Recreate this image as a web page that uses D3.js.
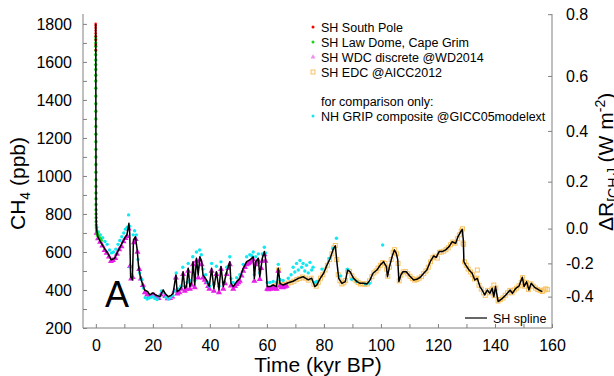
<!DOCTYPE html>
<html>
<head>
<meta charset="utf-8">
<script src="https://cdn.jsdelivr.net/npm/d3@7"></script>
<style>
body { margin: 0; background: #fff; }
svg { display: block; }
</style>
</head>
<body>
<div id="plot"></div>
<script>
// [time kyr BP, CH4 ppb]
let southPole = [[-0.060,1800],[-0.056,1790],[-0.052,1778],[-0.048,1765],[-0.044,1750],[-0.040,1735],[-0.035,1715],[-0.030,1690],[-0.027,1662]];

let lawDome = [[-0.040,1733],[-0.036,1718],[-0.032,1700],[-0.028,1682],[-0.024,1660],[-0.020,1638],[-0.016,1610],[-0.012,1585],[-0.008,1560],
  [-0.004,1530],[0,1500],[0.004,1462],[0.008,1420],[0.012,1380],[0.016,1340],[0.020,1300],[0.024,1260],[0.028,1220],[0.032,1180],[0.036,1140],
  [0.040,1100],[0.045,1060],[0.050,1020],[0.055,980],[0.060,945],[0.065,910],[0.070,880],[0.080,850],[0.090,822],[0.100,800],[0.120,780],
  [0.140,760],[0.170,742],[0.200,728],[0.250,715],[0.300,705],[0.400,698],[0.500,692],[0.650,688],[0.800,684],[1.000,680],[1.300,674],
  [1.600,668],[1.900,660]];

let wdc = [[0.3,705],[0.8,676],[1.5,658],[2.3,638],[3.1,614],[3.8,600],[4.6,580],[5.3,556],[6.0,562],[6.8,572],[7.4,594],[8.2,618],[9.0,634],[9.7,660],
  [10.4,678],[11.0,688],[11.5,728],[12.0,530],[12.4,465],[12.9,472],[13.4,655],[14.0,672],[14.6,605],[15.2,515],[15.8,465],[16.5,430],
  [17.2,392],[18.0,380],[18.8,370],[19.6,375],[20.4,378],[21.2,366],[22.0,362],[22.8,380],[23.6,392],[24.4,372],[25.2,360],[26.0,362],[26.8,370],
  [27.6,400],[28.1,470],[28.6,385],[29.3,392],[30.0,410],[30.6,488],[31.2,400],[31.8,410],[32.4,505],[33.0,410],[33.6,432],[34.1,540],[34.7,418],
  [35.3,558],[35.9,470],[36.5,565],[37.1,540],[37.6,470],[38.2,458],[38.8,445],[39.4,425],[39.8,410],[40.6,505],[41.4,400],[42.3,488],[43.2,392],
  [43.9,515],[44.7,410],[45.3,440],[45.9,488],[46.5,520],[47.0,540],[47.4,428],[48.2,410],[48.8,425],[49.4,436],[50.0,445],[50.5,452],[51.1,480],
  [51.7,505],[52.3,525],[52.9,540],[53.5,545],[54.0,550],[54.6,558],[55.2,566],[55.6,452],[56.1,540],[56.6,552],[57.0,558],[57.5,462],[58.0,520],
  [58.4,558],[59.1,592],[59.5,558],[60.1,410],[60.6,408],[61.1,410],[61.7,415],[62.2,418],[62.8,412],[63.4,410],[64.0,505],[64.6,428],[65.2,420],
  [65.7,418],[66.3,422],[66.9,426]];

let edc = [[62.5,420],[63.5,425],[64.1,505],[64.7,440],[65.5,430],[66.5,430],[67.5,436],[68.5,440],[69.5,446],[70.5,455],[71.5,460],[72.5,468],
  [73.5,462],[74.5,452],[75.5,462],[76.5,430],[77.3,420],[78.0,440],[78.8,462],[79.6,480],[80.4,505],[81.2,530],[82.0,560],[82.8,590],[83.5,622],[84.0,634],
  [84.5,560],[85.0,480],[85.6,448],[86.3,432],[87.0,438],[87.6,450],[88.3,500],[89.0,498],[89.8,475],[90.5,458],[91.3,448],[92.0,440],[92.8,432],
  [93.6,433],[94.4,430],[95.2,432],[96.0,448],[96.8,470],[97.5,490],[98.3,500],[99.0,515],[99.8,530],[100.6,545],[101.4,540],[102.0,510],[102.4,472],
  [103.0,520],[103.6,560],[104.3,598],[104.8,612],[105.5,590],[106.0,540],[106.4,448],[107.0,478],[107.8,495],[108.6,497],[109.4,485],[110.2,472],
  [111.0,460],[111.8,452],[112.6,455],[113.4,462],[114.2,470],[115.0,486],[115.8,500],[116.6,520],[117.4,548],[118.2,570],[119.0,578],[119.8,568],
  [120.5,598],[121.2,600],[122.0,604],[122.8,612],[123.6,622],[124.4,638],[125.2,652],[126.0,646],[126.8,670],[127.5,690],[128.2,710],[128.6,722],
  [128.8,647],[129.0,640],[129.3,548],[129.9,530],[130.6,510],[131.4,495],[132.2,480],[132.8,458],[133.6,462],[133.8,505],[134.4,425],[135.2,405],
  [136.0,385],[136.6,372],[137.4,398],[138.2,385],[139.0,405],[139.6,426],[139.7,370],[140.3,410],[141.1,342],[141.9,350],[142.8,358],[143.6,372],
  [144.4,385],[145.2,398],[146.0,385],[146.8,400],[147.6,410],[148.4,422],[149.2,440],[149.7,465],[150.3,420],[151.0,440],[151.8,402],[152.6,432],
  [153.4,420],[154.2,410],[155.0,402],[155.8,398],[156.6,392],[157.2,400],[157.8,406],[158.4,402]];

let grip = [[0.3,730],[0.9,705],[1.6,690],[2.4,675],[3.2,655],[4.0,640],[4.8,610],[5.5,595],[6.2,600],[7.0,615],[7.8,640],[8.4,660],[9.1,680],
  [9.8,700],[10.4,720],[11.0,730],[11.5,795],[11.8,735],[12.1,520],[12.6,480],[13.1,690],[13.6,712],[14.2,690],[14.8,560],[15.4,490],[16.0,455],
  [16.7,410],[17.3,360],[18.0,352],[18.7,358],[19.4,362],[20.1,365],[20.8,355],[21.5,350],[22.3,368],[23.0,395],[23.8,385],[24.6,362],[25.4,352],
  [26.2,360],[27.0,372],[27.8,395],[28.2,490],[29.0,405],[29.8,420],[30.5,520],[31.2,420],[32.0,440],[32.4,540],[33.0,450],[34.0,575],[34.7,450],
  [35.3,600],[35.9,520],[36.4,610],[37.0,585],[37.6,510],[38.5,480],[39.2,440],[39.9,420],[40.6,540],[41.4,430],[42.3,525],[43.2,420],[43.9,548],
  [44.7,440],[45.9,520],[47.0,575],[47.4,460],[48.2,440],[49.4,465],[50.5,480],[51.7,535],[52.9,575],[54.0,585],[54.7,580],[55.2,600],[55.6,480],
  [56.1,575],[57.0,590],[57.5,490],[58.4,590],[59.1,625],[59.5,595],[60.1,440],[61.1,440],[62.2,445],[63.4,440],[64.0,535],[64.6,455],[65.7,450],
  [67.5,462],[68.5,480],[69.2,520],[69.8,495],[70.4,540],[71.0,505],[71.6,555],[72.2,520],[72.7,540],[73.3,500],[73.9,530],[74.5,490],[75.1,545],
  [75.7,505],[76.2,520],[76.8,440],[77.5,445],[79.3,510],[82.0,567],[83.1,619],[84.4,672],[85.9,474],[88.3,510],[89.7,456],[91.5,445],[94.5,432],
  [96.0,435],[100.6,637]];

let spline = [[-0.06,1800],[-0.03,1740],[0,1650],[0.03,1200],[0.08,850],[0.15,740],[0.3,716],[0.7,680],[1.9,646],[3.0,619],[4.2,593],[5.4,558],
  [6.6,567],[7.7,602],[8.9,637],[10.1,672],[10.9,690],[11.6,751],[11.9,698],[12.2,470],[12.8,453],[13.2,663],[13.9,680],[14.5,611],[15.0,523],
  [15.6,470],[16.3,435],[17.1,400],[18.2,391],[18.9,374],[20.0,385],[21.2,372],[22.5,365],[23.6,400],[24.4,380],[25.4,365],[26.4,372],[27.1,382],
  [28.1,479],[28.5,391],[29.3,400],[30.1,418],[30.6,496],[31.2,409],[31.8,418],[32.4,514],[33.0,418],[33.6,440],[34.1,549],[34.7,426],[35.3,567],
  [35.9,479],[36.5,575],[37.1,549],[37.6,479],[38.8,453],[39.8,418],[40.6,514],[41.4,409],[42.3,496],[43.2,400],[43.9,523],[44.7,418],[45.9,496],
  [47.0,549],[47.4,435],[48.2,418],[49.4,444],[50.5,461],[51.7,514],[52.9,549],[54.0,558],[55.2,575],[55.6,461],[56.1,549],[57.0,567],[57.5,470],
  [58.4,567],[59.1,602],[59.5,567],[60.1,418],[61.1,418],[62.2,426],[63.4,418],[64.0,514],[64.6,435],[65.7,426],[67.5,438],[69.2,446],[71.0,461],
  [72.7,470],[74.5,453],[75.7,462],[76.8,418],[77.5,426],[78.7,461],[79.9,488],[81.1,532],[82.2,567],[83.4,619],[84.0,632],
  [84.6,540],[85.2,461],[86.3,435],[87.5,444],[88.3,505],[89.2,496],[90.4,461],[91.6,444],[92.7,435],[93.9,435],[95.1,431],[96.2,453],[97.2,488],
  [98.6,505],[99.8,532],[100.9,549],[101.9,523],[102.3,470],[103.0,523],[103.9,575],[104.7,611],[105.4,593],[105.9,558],[106.3,444],[107.0,479],
  [107.7,496],[108.9,496],[110.1,474],[111.5,453],[112.6,456],[113.8,467],[115.0,488],[116.1,505],[117.3,549],[118.5,579],[119.4,572],[120.4,602],
  [121.5,602],[122.7,611],[123.9,628],[125.0,654],[126.2,645],[127.0,680],[128.0,707],[128.5,719],[128.9,663],[129.1,549],[129.7,532],[130.9,505],
  [132.0,488],[132.9,453],[133.8,461],[134.7,418],[135.5,400],[136.4,374],[137.3,400],[138.2,382],[139.0,409],[139.6,365],[140.2,418],[141.1,339],
  [142.6,356],[143.8,374],[145.3,400],[146.1,382],[147.3,409],[148.4,420],[149.6,467],[150.2,418],[151.1,444],[151.9,400],[152.7,435],[153.9,414],
  [155.4,400],[156.6,391]];

let yTicks = d3.range(200, 1801, 100);
let xTicks = d3.range(0, 161, 10);
// radiative forcing ticks and the CH4 level each one sits at
let rfTicks = [-0.4, -0.2, 0, 0.2, 0.4, 0.6, 0.8];
let rfCH4 = [365, 540, 723, 970, 1237, 1526, 1851];

let legendLabels = ['SH South Pole', 'SH Law Dome, Cape Grim', 'SH WDC discrete @WD2014', 'SH EDC @AICC2012', 'NH GRIP composite @GICC05modelext'];

let width = 614, height = 376;
let margin = {top: 14, right: 62, bottom: 48, left: 83};
let font = '"Liberation Sans", Arial, Helvetica, sans-serif';
let axisColor = '#808080';

let svg = d3.select('#plot').append('svg').attr('width', width).attr('height', height)
  .style('font-family', font).style('background', '#fff');

let x = d3.scaleLinear().domain([-4.5, 160]).range([margin.left, width - margin.right]);
let y = d3.scaleLinear().domain([200, 1852]).range([height - margin.bottom, margin.top]);
let rf = d3.scaleLinear().domain(rfTicks).range(rfCH4.map(y));

// frame: left, bottom, right
svg.append('path')
  .attr('d', `M${x.range()[0]},${y.range()[1]}V${y.range()[0]}H${x.range()[1]}V${y.range()[1]}`)
  .attr('fill', 'none').attr('stroke', axisColor).attr('stroke-width', 1);

function styleAxis(g) {
  g.attr('font-family', font).attr('font-size', 16).style('color', '#000');
  g.select('.domain').remove();
  g.selectAll('.tick line').attr('stroke', axisColor);
}

svg.append('g').attr('transform', `translate(${margin.left},0)`)
  .call(d3.axisLeft(y).tickValues(yTicks).tickSize(-4).tickPadding(11).tickFormat(d => d % 200 ? '' : d))
  .call(styleAxis);

svg.append('g').attr('transform', `translate(0,${height - margin.bottom})`)
  .call(d3.axisBottom(x).tickValues(xTicks).tickSize(-4).tickPadding(12).tickFormat(d => d % 20 ? '' : d))
  .call(styleAxis);

svg.append('g').attr('transform', `translate(${width - margin.right},0)`)
  .call(d3.axisRight(rf).tickValues(rfTicks).tickSize(-4).tickPadding(14).tickFormat(d => d.toFixed(1)))
  .call(styleAxis);

// axis titles
svg.append('text').attr('transform', 'translate(25,230) rotate(-90)').attr('font-size', 21)
  .call(t => {
    t.append('tspan').text('CH');
    t.append('tspan').attr('font-size', 14).attr('dy', 5).text('4');
    t.append('tspan').attr('dy', -5).text(' (ppb)');
  });

// the reference figure crops this title at the right edge as well
svg.append('text').attr('transform', 'translate(613,231) rotate(-90)').attr('font-size', 21)
  .call(t => {
    t.append('tspan').text('\u0394R');
    t.append('tspan').attr('font-size', 14).attr('dy', 5).text('[CH');
    t.append('tspan').attr('font-size', 10).attr('dy', 3).text('4');
    t.append('tspan').attr('font-size', 14).attr('dy', -3).text(']');
    t.append('tspan').attr('dy', -5).text(' (W m');
    t.append('tspan').attr('font-size', 14).attr('dy', -8).text('-2');
    t.append('tspan').attr('dy', 8).text(')');
  });

svg.append('text').attr('x', (x.range()[0] + x.range()[1]) / 2 + 0.5).attr('y', 372)
  .attr('text-anchor', 'middle').attr('font-size', 21).text('Time (kyr BP)');

// data
let plot = svg.append('g');

plot.append('g').selectAll('rect').data(edc).enter().append('rect')
  .attr('x', d => x(d[0]) - 2).attr('y', d => y(d[1]) - 2)
  .attr('width', 4).attr('height', 4)
  .attr('fill', 'none').attr('stroke', '#f8c25e').attr('stroke-width', 1);

let tri = d3.symbol().type(d3.symbolTriangle).size(16);
plot.append('g').selectAll('path').data(wdc).enter().append('path')
  .attr('d', tri)
  .attr('transform', d => `translate(${x(d[0])},${y(d[1]) + 1})`)
  .attr('fill', '#e61ee6');

plot.append('g').selectAll('circle').data(grip).enter().append('circle')
  .attr('cx', d => x(d[0])).attr('cy', d => y(d[1])).attr('r', 1.7)
  .attr('fill', '#11e8f0');

plot.append('g').selectAll('circle').data(lawDome).enter().append('circle')
  .attr('cx', d => x(d[0])).attr('cy', d => y(d[1])).attr('r', 1.7)
  .attr('fill', '#19d419');

plot.append('g').selectAll('circle').data(southPole).enter().append('circle')
  .attr('cx', d => x(d[0])).attr('cy', d => y(d[1])).attr('r', 1.3)
  .attr('fill', '#ff0000');

let line = d3.line().x(d => x(d[0])).y(d => y(d[1]));
plot.append('path').datum(spline).attr('d', line)
  .attr('fill', 'none').attr('stroke', '#000').attr('stroke-width', 1.5).attr('stroke-linejoin', 'round');

// panel letter
svg.append('text').attr('x', 105).attr('y', 307).attr('font-size', 36).text('A');

// legend, top right
let legendColors = ['#ff0000', '#19d419', '#f28cf0', '#f8c25e', '#11e8f0'];
let legendRows = [27, 42, 57, 72, 116];
let legend = svg.append('g').attr('font-size', 12.5);

legendLabels.forEach((lab, i) => {
  let row = legend.append('g').attr('transform', `translate(313,${legendRows[i]})`);
  if (i == 2) {
    row.append('path').attr('d', d3.symbol().type(d3.symbolTriangle).size(10)).attr('fill', legendColors[i]);
  } else if (i == 3) {
    row.append('rect').attr('x', -2).attr('y', -2).attr('width', 4).attr('height', 4)
      .attr('fill', 'none').attr('stroke', legendColors[i]);
  } else {
    row.append('circle').attr('r', 1.5).attr('fill', legendColors[i]);
  }
  row.append('text').attr('x', 8).attr('y', 4.5).text(lab);
});
legend.append('text').attr('x', 321).attr('y', 105.5).text('for comparison only:');

// spline legend, bottom right
let sl = svg.append('g').attr('transform', 'translate(465,318)');
sl.append('line').attr('x1', 0).attr('x2', 22).attr('stroke', '#000').attr('stroke-width', 1.2);
sl.append('text').attr('x', 28).attr('y', 4.5).attr('font-size', 12.5).text('SH spline');
</script>
</body>
</html>
